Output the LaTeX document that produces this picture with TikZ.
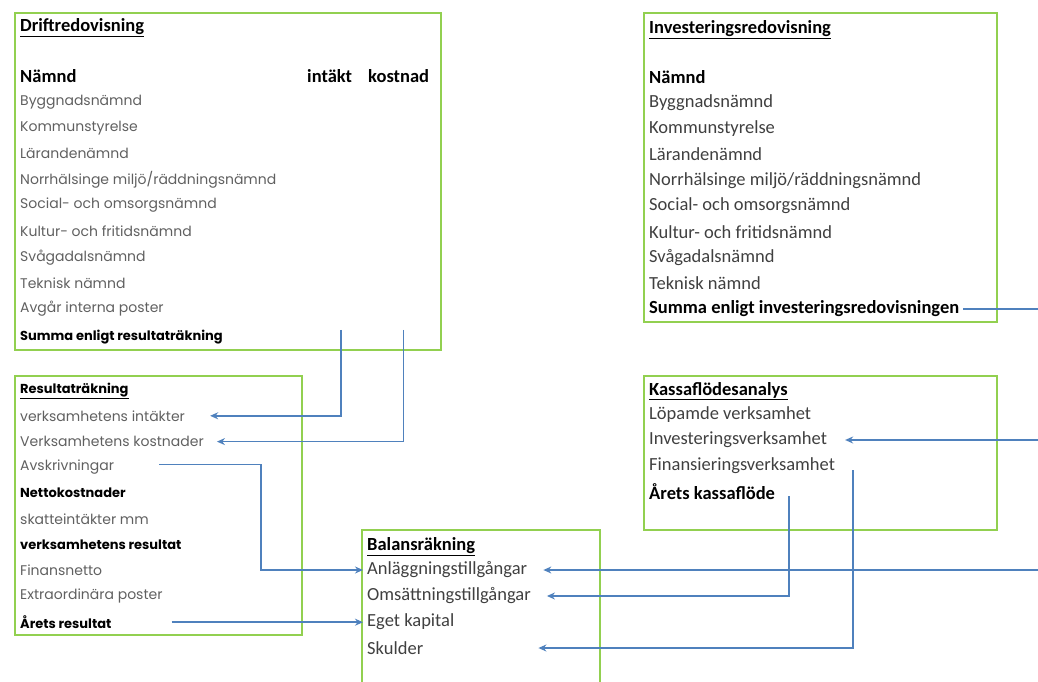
\documentclass[tikz,border=0pt]{standalone}
\usepackage{fontspec}
\setmainfont{Carlito}
\newfontfamily\gothic{Poppins}
\usetikzlibrary{arrows.meta,calc}

\definecolor{boxgreen}{RGB}{146,208,80}
\definecolor{linkblue}{RGB}{79,129,189}
\definecolor{darktext}{RGB}{64,64,64}
\definecolor{greytext}{RGB}{96,96,96}

\begin{document}
\begin{tikzpicture}[x=1pt, y=-1pt,
        box/.style={draw=boxgreen, line width=2.6pt},
        citem/.style={anchor=west, inner sep=0pt, text=darktext, font=\fontsize{18.5}{20}\selectfont},
        cbold/.style={citem, text=black, font=\bfseries\fontsize{18.5}{20}\selectfont},
        gitem/.style={anchor=west, inner sep=0pt, text=greytext, font=\gothic\fontsize{14}{16}\selectfont},
        gbold/.style={gitem, text=black, font=\gothic\bfseries\fontsize{13}{15}\selectfont},
        link/.style={draw=linkblue, line width=1.6pt},
        arr/.style={link, -{Stealth[length=8pt,width=7pt]}}]
    \useasboundingbox (0,0) rectangle (1038,682);
    \coordinate (rightedge) at (1038,0);

    % Driftredovisning
    \draw[box] (15,13) rectangle (441,350);
    \node[cbold] (drift) at (20,28) {\underline{Driftredovisning}};
    \node[cbold] (dnamnd) at (20,76) {Nämnd};
    \node[cbold] (intakt) at (307,76) {intäkt};
    \node[cbold] (kostnad) at (368,76) {kostnad};
    \foreach \txt [count=\i] in {Byggnadsnämnd, Kommunstyrelse, Lärandenämnd,
            Norrhälsinge miljö/räddningsnämnd, Social- och omsorgsnämnd,
            Kultur- och fritidsnämnd, Svågadalsnämnd, Teknisk nämnd, Avgår interna poster}
        \node[gitem] (d-\i) at (20,76+25.9*\i) {\txt};
    \node[gbold] (dsum) at (20,337) {Summa enligt resultaträkning};

    % Resultaträkning
    \draw[box] (15,376) rectangle (302,635);
    \node[gbold] (result) at (20,391) {\underline{Resultaträkning}};
    \foreach \txt/\st [count=\i] in {verksamhetens intäkter/gitem, Verksamhetens kostnader/gitem,
            Avskrivningar/gitem, Nettokostnader/gbold, skatteintäkter mm/gitem,
            verksamhetens resultat/gbold, Finansnetto/gitem, Extraordinära poster/gitem,
            Årets resultat/gbold}
        \node[\st] (r-\i) at (20,390+25.8*\i) {\txt};

    % Balansräkning
    \draw[box] (362,684) |- (600,530) -- (600,684);
    \node[cbold] (balans) at (367,547) {\underline{Balansräkning}};
    \node[citem] (banl) at (367,570) {Anläggningstillgångar};
    \node[citem] (boms) at (367,596) {Omsättningstillgångar};
    \node[citem] (beget) at (367,622) {Eget kapital};
    \node[citem] (bskuld) at (367,648) {Skulder};

    % Investeringsredovisning
    \draw[box] (644,13) rectangle (997,322);
    \node[cbold] (invest) at (649,30) {\underline{Investeringsredovisning}};
    \node[cbold] (inamnd) at (649,77) {Nämnd};
    \foreach \txt [count=\i] in {Byggnadsnämnd, Kommunstyrelse, Lärandenämnd,
            Norrhälsinge miljö/räddningsnämnd, Social- och omsorgsnämnd,
            Kultur- och fritidsnämnd, Svågadalsnämnd, Teknisk nämnd}
        \node[citem] (i-\i) at (649,77+25.8*\i) {\txt};
    \node[cbold] (isum) at (649,309) {Summa enligt investeringsredovisningen};

    % Kassaflödesanalys
    \draw[box] (644,376) rectangle (997,530);
    \node[cbold] (kassa) at (649,391) {\underline{Kassaflödesanalys}};
    \node[citem] (klop) at (649,415) {Löpamde verksamhet};
    \node[citem] (kinv) at (649,440) {Investeringsverksamhet};
    \node[citem] (kfin) at (649,466) {Finansieringsverksamhet};
    \node[cbold] (karets) at (649,492) {Årets kassaflöde};

    % kopplingar
    \draw[arr] ($(intakt.east |- dsum.north)+(-11,0)$) |- ([xshift=25pt]r-1.east);
    \draw[arr] ($(kostnad.center |- dsum.north)+(5,0)$) |- ([xshift=13pt]r-2.east);
    \draw[arr] ([xshift=45pt,yshift=3pt]r-3.east) -- ++(102,0) |- ([xshift=-4pt]banl.west);
    \draw[arr] ([xshift=60pt]r-9.east) -- ($(r-9.east -| beget.west)+(-4,0)$);
    \draw[link] ([xshift=4pt]isum.east) -- (isum -| rightedge);
    \draw[arr] (kinv -| rightedge) -- ([xshift=18pt]kinv.east);
    \draw[arr] (banl -| rightedge) -- ([xshift=16pt]banl.east);
    \draw[arr] ([xshift=14pt,yshift=-4pt]karets.east) |- ([xshift=16pt]boms.east);
    \draw[arr] ([xshift=18pt,yshift=-4pt]kfin.east) |- ([xshift=115pt]bskuld.east);
\end{tikzpicture}
\end{document}
